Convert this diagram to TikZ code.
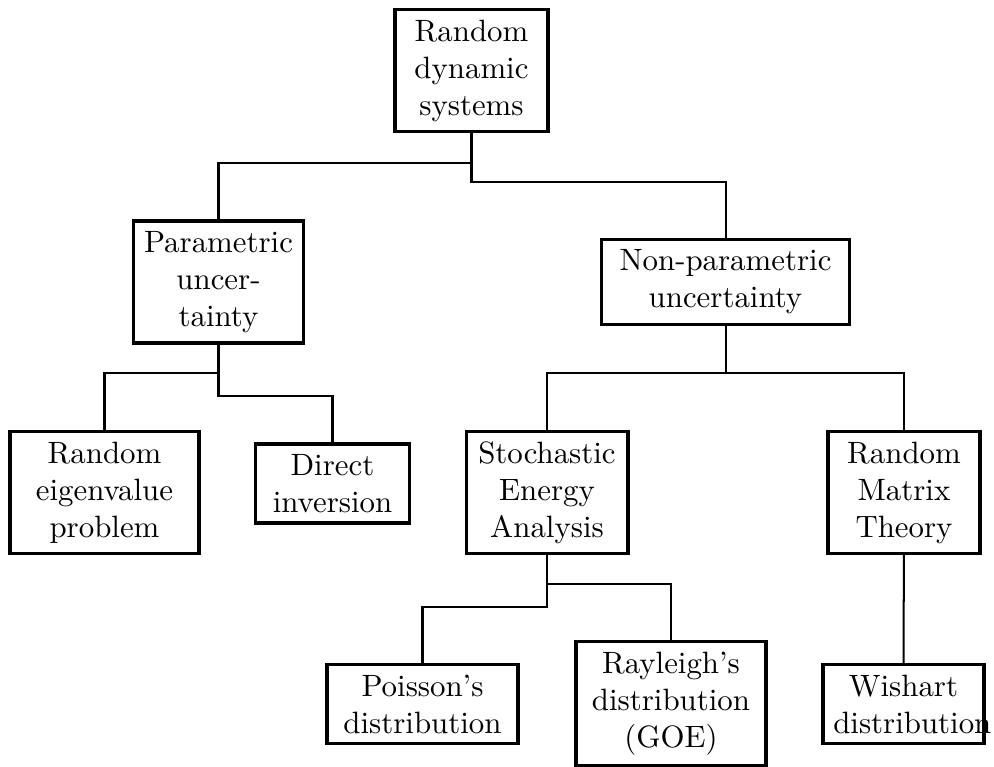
\documentclass[tikz,border=0pt]{standalone}
\usetikzlibrary{positioning}

\begin{document}
\begin{tikzpicture}[x=0.324pt, y=-0.324pt,
        box/.style={draw, line width=1pt, align=center, inner sep=3.33pt},
        edge/.style={line width=0.65pt}]
        \useasboundingbox (0,0) rectangle (994,767);

        \node[box, text width=42.9pt] (root) at (471.5,70.5) {Random dynamic systems};
        \node[box, text width=48.7pt] (param) at (218.5,282) {Parametric uncertainty};
        \node[box, text width=73.4pt] (nonparam) at (725.5,282) {Non-parametric uncertainty};
        \node[box, text width=54.6pt] (eigen) at (104.5,492.5) {Random eigenvalue problem};
        \node[box, text width=43.2pt] (direct) at (332.5,483.5) {Direct inversion};
        \node[box, text width=45.8pt] (sea) at (547,492.5) {Stochastic Energy Analysis};
        \node[box, text width=42.6pt] (rmt) at (904,492.5) {Random Matrix Theory};
        \node[box, text width=55.2pt] (poisson) at (422.5,704) {Poisson's distribution};
        \node[box, text width=54.9pt] (rayleigh) at (671,703.5) {Rayleigh's distribution (GOE)};
        \node[box, text width=45.5pt] (wishart) at (903.5,704) {Wishart \mbox{distribution}};

        % forks
        \coordinate (rootleft) at (471.5,163);
        \coordinate (rootright) at (471.5,182);
        \coordinate (paramleft) at (218.5,373);
        \coordinate (paramright) at (218.5,396);
        \coordinate (nonparamfork) at (725.5,373);
        \coordinate (searight) at (547,584);
        \coordinate (sealeft) at (547,607);

        \draw[edge] (root) -- (rootright) -| (nonparam);
        \draw[edge] (rootleft) -| (param);
        \draw[edge] (param) -- (paramright) -| (direct);
        \draw[edge] (paramleft) -| (eigen);
        \draw[edge] (nonparam) -- (nonparamfork) -| (sea);
        \draw[edge] (nonparamfork) -| (rmt);
        \draw[edge] (sea) -- (sealeft) -| (poisson);
        \draw[edge] (searight) -| (rayleigh);
        \draw[edge] (rmt) -- (wishart);
\end{tikzpicture}
\end{document}
